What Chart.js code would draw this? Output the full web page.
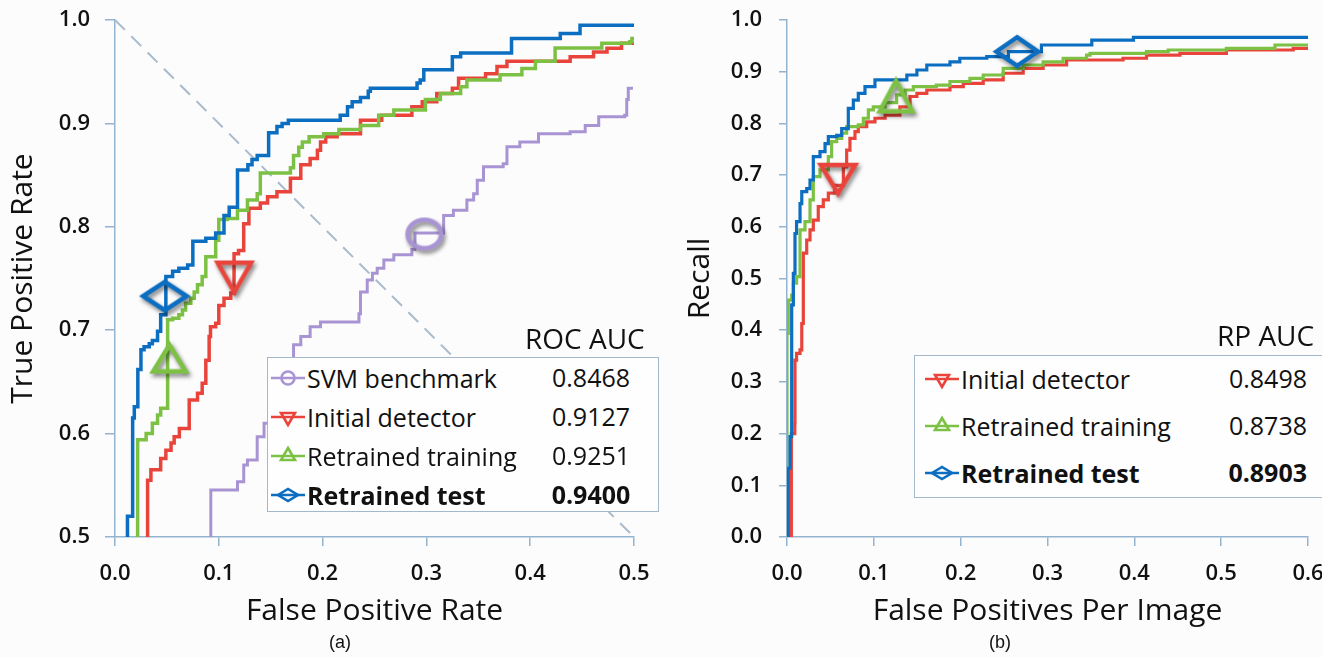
<!DOCTYPE html>
<html>
<head>
<meta charset="utf-8">
<script src="https://cdn.jsdelivr.net/npm/chart.js@4.4.1/dist/chart.umd.min.js"></script>
<style>
  html, body { margin: 0; padding: 0; }
  body { width: 1322px; height: 657px; overflow: hidden; background: #fcfcfd; position: relative;
         font-family: 'Open Sans', sans-serif; color: #111; }
  canvas { position: absolute; top: 0; }
  #roc { left: 0; }
  #rp { left: 660px; }
  .box { position: absolute; border: 1.5px solid #a3b8cb; background: #fefefe; box-sizing: border-box; }
  .row { position: absolute; left: 0; display: flex; align-items: center; font-size: 25px; white-space: nowrap; }
  .row svg { flex: none; }
  .val { position: absolute; font-size: 25px; }
  .hdr { position: absolute; font-size: 28px; white-space: nowrap; line-height: 1; }
  .cap { position: absolute; font-family: 'Liberation Sans', Arial, sans-serif; font-size: 18px; transform: translate(-50%, -50%); }
</style>
</head>
<body>
<canvas id="roc" width="660" height="657"></canvas>
<canvas id="rp" width="662" height="657"></canvas>
<div class="hdr" id="rocHdr" style="left:525px; top:324px;">ROC AUC</div>
<div class="box" id="rocBox" style="left:267px; top:357px; width:392px; height:155px;"></div>
<div class="hdr" id="rpHdr" style="left:1217px; top:321px;">RP AUC</div>
<div class="box" id="rpBox" style="left:914px; top:355px; width:420px; height:143px;"></div>
<div class="cap" style="left:340px; top:642px;">(a)</div>
<div class="cap" style="left:1000px; top:642px;">(b)</div>
<script>
'use strict';

// ---- (a) ROC curves, [false positive rate, true positive rate]
const rocTest = [
    [0.012, 0.5], [0.012, 0.52], [0.017, 0.615], [0.0186, 0.626], [0.022, 0.662], [0.025, 0.681],
    [0.028, 0.684], [0.033, 0.687], [0.036, 0.69], [0.041, 0.699], [0.044, 0.715], [0.049, 0.752],
    [0.0555, 0.757], [0.0615, 0.76], [0.07, 0.763], [0.075, 0.786], [0.0875, 0.789], [0.097, 0.794],
    [0.105, 0.811], [0.11, 0.819], [0.118, 0.855], [0.128, 0.86], [0.132, 0.865], [0.137, 0.869],
    [0.148, 0.891], [0.156, 0.897], [0.161, 0.9], [0.167, 0.903], [0.217, 0.908], [0.224, 0.916],
    [0.2285, 0.921], [0.2365, 0.925], [0.244, 0.931], [0.246, 0.934], [0.291, 0.939], [0.294, 0.942],
    [0.2975, 0.952], [0.325, 0.9645], [0.333, 0.968], [0.382, 0.982], [0.429, 0.987], [0.448, 0.995],
    [0.5, 0.995]
];
const rocTrain = [
    [0.0218, 0.5], [0.0218, 0.594], [0.03, 0.6], [0.036, 0.61], [0.041, 0.618], [0.044, 0.6245],
    [0.0507, 0.71], [0.0555, 0.7115], [0.0615, 0.715], [0.065, 0.7195], [0.068, 0.726], [0.073, 0.731],
    [0.0763, 0.737], [0.0795, 0.744], [0.084, 0.752], [0.0875, 0.771], [0.097, 0.787], [0.1, 0.807],
    [0.108, 0.808], [0.118, 0.816], [0.1276, 0.826], [0.137, 0.832], [0.14, 0.852], [0.169, 0.857],
    [0.172, 0.869], [0.177, 0.877], [0.1805, 0.882], [0.187, 0.887], [0.201, 0.89], [0.2157, 0.894],
    [0.2365, 0.898], [0.254, 0.908], [0.2686, 0.913], [0.299, 0.923], [0.3135, 0.929], [0.333, 0.9355],
    [0.339, 0.942], [0.371, 0.947], [0.392, 0.953], [0.405, 0.96], [0.424, 0.973], [0.469, 0.9775],
    [0.496, 0.979], [0.498, 0.982], [0.5, 0.982]
];
const rocInitial = [
    [0.0314, 0.5], [0.0314, 0.555], [0.0346, 0.565], [0.044, 0.576], [0.049, 0.584], [0.054, 0.591],
    [0.057, 0.597], [0.062, 0.605], [0.0715, 0.6325], [0.0795, 0.639], [0.084, 0.6486], [0.0875, 0.671],
    [0.0907, 0.694], [0.092, 0.7034], [0.097, 0.7067], [0.1, 0.724], [0.105, 0.731], [0.1115, 0.736],
    [0.1147, 0.774], [0.119, 0.777], [0.124, 0.803], [0.129, 0.818], [0.14, 0.823], [0.147, 0.829],
    [0.156, 0.834], [0.169, 0.847], [0.179, 0.86], [0.188, 0.866], [0.195, 0.874], [0.198, 0.882],
    [0.203, 0.887], [0.214, 0.89], [0.2365, 0.903], [0.257, 0.908], [0.286, 0.916], [0.296, 0.921],
    [0.31, 0.929], [0.325, 0.934], [0.331, 0.9436], [0.357, 0.948], [0.368, 0.955], [0.3776, 0.96],
    [0.4385, 0.9645], [0.461, 0.969], [0.474, 0.9726], [0.488, 0.9775], [0.5, 0.9775]
];
const rocSvm = [
    [0.0923, 0.5], [0.0923, 0.5455], [0.118, 0.5535], [0.124, 0.5696], [0.1276, 0.5745], [0.137, 0.597],
    [0.1436, 0.61], [0.155, 0.64], [0.166, 0.671], [0.172, 0.686], [0.179, 0.694], [0.188, 0.7034],
    [0.198, 0.708], [0.235, 0.716], [0.2365, 0.737], [0.243, 0.7485], [0.248, 0.755], [0.2526, 0.76],
    [0.259, 0.768], [0.2686, 0.773], [0.286, 0.778], [0.289, 0.794], [0.3166, 0.811], [0.326, 0.816],
    [0.339, 0.826], [0.3455, 0.832], [0.349, 0.845], [0.355, 0.858], [0.374, 0.861], [0.3776, 0.8775],
    [0.39, 0.882], [0.408, 0.89], [0.4385, 0.892], [0.453, 0.898], [0.466, 0.9065], [0.491, 0.908],
    [0.493, 0.923], [0.4945, 0.934], [0.499, 0.934]
];
const rocChance = [[0, 1], [0.5, 0.5]];
// operating points marked on each curve
const rocPoints = { svm: [0.298, 0.793], initial: [0.115, 0.751], train: [0.0524, 0.673], test: [0.048, 0.733] };
const rocNames = ['SVM benchmark', 'Initial detector', 'Retrained training', 'Retrained test'];
const rocAuc = ['0.8468', '0.9127', '0.9251', '0.9400'];

// ---- (b) recall vs false positives per image
const rpTest = [
    [0, 0], [0.0015, 0.039], [0.0015, 0.133], [0.0035, 0.194], [0.0054, 0.449], [0.0073, 0.51],
    [0.0092, 0.587], [0.011, 0.61], [0.015, 0.645], [0.017, 0.668], [0.0227, 0.674], [0.0265, 0.6905],
    [0.0303, 0.7356], [0.038, 0.7453], [0.0438, 0.761], [0.0476, 0.7744], [0.0572, 0.777], [0.063, 0.79],
    [0.0706, 0.829], [0.0764, 0.845], [0.0821, 0.858], [0.0898, 0.871], [0.1013, 0.884], [0.138, 0.8936],
    [0.1496, 0.9033], [0.161, 0.913], [0.1877, 0.919], [0.199, 0.926], [0.23, 0.929], [0.255, 0.939],
    [0.293, 0.9516], [0.351, 0.961], [0.399, 0.9665], [0.6, 0.9665]
];
const rpTrain = [
    [0, 0], [0, 0.02], [0, 0.394], [0.0015, 0.458], [0.0054, 0.468], [0.0073, 0.491], [0.011, 0.5035],
    [0.015, 0.594], [0.0207, 0.61], [0.0265, 0.652], [0.0303, 0.697], [0.038, 0.71], [0.0476, 0.7356],
    [0.0514, 0.7646], [0.0572, 0.771], [0.063, 0.781], [0.0687, 0.7936], [0.0821, 0.797], [0.0879, 0.81],
    [0.0937, 0.826], [0.0994, 0.832], [0.113, 0.84], [0.1263, 0.855], [0.136, 0.8646], [0.1455, 0.871],
    [0.172, 0.874], [0.1877, 0.881], [0.2107, 0.8872], [0.226, 0.8936], [0.249, 0.9066], [0.272, 0.913],
    [0.295, 0.919], [0.318, 0.926], [0.345, 0.932], [0.349, 0.9356], [0.414, 0.9387], [0.439, 0.942],
    [0.506, 0.9452], [0.562, 0.9516], [0.6, 0.9516]
];
const rpInitial = [
    [0.004, 0], [0.005, 0.2], [0.009, 0.22], [0.0092, 0.342], [0.011, 0.355], [0.015, 0.362], [0.017, 0.413],
    [0.0188, 0.549], [0.0227, 0.5745], [0.0265, 0.594], [0.0303, 0.613], [0.036, 0.639], [0.0418, 0.652],
    [0.0476, 0.665], [0.055, 0.68], [0.0649, 0.716], [0.0687, 0.7485], [0.0725, 0.771], [0.0783, 0.784],
    [0.0821, 0.7936], [0.0918, 0.803], [0.1013, 0.81], [0.113, 0.816], [0.13, 0.832], [0.1417, 0.852],
    [0.1496, 0.858], [0.161, 0.8646], [0.1877, 0.871], [0.203, 0.8775], [0.226, 0.884], [0.249, 0.897],
    [0.272, 0.9066], [0.295, 0.913], [0.322, 0.9226], [0.387, 0.926], [0.414, 0.932], [0.4525, 0.9356],
    [0.506, 0.942], [0.583, 0.9452], [0.6, 0.948]
];
const rpPoints = { initial: [0.0587, 0.692], train: [0.1255, 0.853], test: [0.265, 0.939] };
const rpNames = ['Initial detector', 'Retrained training', 'Retrained test'];
const rpAuc = ['0.8498', '0.8738', '0.8903'];

const BLUE = '#0b6ec1';
const GREEN = '#7cc144';
const RED = '#e9443b';
const PURPLE = '#a994d3';
const AXIS = '#93b3cf';
const INK = '#111';

Chart.defaults.font.family = "'Open Sans', sans-serif";

const xy = arr => arr.map(p => ({ x: p[0], y: p[1] }));

function markerCanvas(shape, color, w, h) {
    const pad = 10;
    const c = document.createElement('canvas');
    c.width = w + pad * 2;
    c.height = h + pad * 2;
    const g = c.getContext('2d');
    g.translate(c.width / 2, c.height / 2);
    g.shadowColor = 'rgba(0,0,0,0.5)';
    g.shadowBlur = 4;
    g.shadowOffsetX = 2;
    g.shadowOffsetY = 3;
    g.strokeStyle = color;
    g.lineWidth = 4.5;
    const hw = w / 2 - 2.25, hh = h / 2 - 2.25;
    g.beginPath();
    if (shape === 'circle') {
        g.ellipse(0, 0, hw, hh, 0, 0, Math.PI * 2);
    } else if (shape === 'down') {
        g.moveTo(-hw, -hh); g.lineTo(hw, -hh); g.lineTo(0, hh); g.closePath();
    } else if (shape === 'up') {
        g.moveTo(0, -hh); g.lineTo(hw, hh); g.lineTo(-hw, hh); g.closePath();
    } else {
        g.moveTo(-hw, 0); g.lineTo(0, -hh); g.lineTo(hw, 0); g.lineTo(0, hh); g.closePath();
    }
    g.stroke();
    return c;
}

function curve(data, color, width) {
    return { data: xy(data), borderColor: color, borderWidth: width, pointRadius: 0, stepped: true, fill: false };
}

function marker(pt, img) {
    return { data: [{ x: pt[0], y: pt[1] }], showLine: false, pointRadius: 5, pointStyle: img, clip: false };
}

function scales(xMax, yMin, xTitle, yTitle, yWidth, xHeight, yPad, yTitlePad, yTick) {
    return {
        x: {
            type: 'linear', min: 0, max: xMax,
            ticks: { stepSize: 0.1, color: INK, font: { size: 22, weight: '600' }, padding: 15, maxRotation: 0,
                     autoSkip: false, callback: v => v.toFixed(1) },
            grid: { drawOnChartArea: false, tickLength: 9, color: AXIS, lineWidth: 1.5 },
            border: { color: AXIS, width: 1.5 },
            title: { display: true, text: xTitle, color: INK, font: { size: 30 }, padding: { top: 0, bottom: 28 } },
            afterFit: s => { s.height = xHeight; s.paddingLeft = 0; s.paddingRight = 0; }
        },
        y: {
            type: 'linear', min: yMin, max: 1,
            ticks: { stepSize: 0.1, color: INK, font: { size: 22, weight: '600' }, padding: yPad, autoSkip: false,
                     callback: v => v.toFixed(1) },
            grid: { drawOnChartArea: false, tickLength: yTick, color: AXIS, lineWidth: 1.5 },
            border: { color: AXIS, width: 1.5 },
            title: { display: true, text: yTitle, color: INK, font: { size: 30 }, padding: { top: yTitlePad, bottom: 0 } },
            afterFit: s => { s.width = yWidth; s.paddingTop = 0; s.paddingBottom = 0; }
        }
    };
}

const baseOptions = {
    responsive: false,
    animation: false,
    events: [],
    plugins: { legend: { display: false }, tooltip: { enabled: false } }
};

new Chart(document.getElementById('roc'), {
    type: 'line',
    data: {
        datasets: [
            marker(rocPoints.test, markerCanvas('diamond', BLUE, 48, 33)),
            marker(rocPoints.train, markerCanvas('up', GREEN, 37, 31)),
            marker(rocPoints.initial, markerCanvas('down', RED, 38, 34)),
            marker(rocPoints.svm, markerCanvas('circle', PURPLE, 38, 33)),
            curve(rocTest, BLUE, 3.5),
            curve(rocTrain, GREEN, 3.5),
            curve(rocInitial, RED, 3.5),
            curve(rocSvm, PURPLE, 3),
            { data: xy(rocChance), borderColor: '#a9bacb', borderWidth: 2, borderDash: [14, 9], pointRadius: 0 }
        ]
    },
    options: Object.assign({}, baseOptions, {
        layout: { padding: { left: 0, top: 20, right: 26, bottom: 0 } },
        scales: scales(0.5, 0.5, 'False Positive Rate', 'True Positive Rate', 115, 120, 15, 5, 10)
    })
});

new Chart(document.getElementById('rp'), {
    type: 'line',
    data: {
        datasets: [
            marker(rpPoints.test, markerCanvas('diamond', BLUE, 46, 33)),
            marker(rpPoints.train, markerCanvas('up', GREEN, 37, 35)),
            marker(rpPoints.initial, markerCanvas('down', RED, 39, 33)),
            curve(rpTest, BLUE, 3.2),
            curve(rpTrain, GREEN, 3.2),
            curve(rpInitial, RED, 3.2)
        ]
    },
    options: Object.assign({}, baseOptions, {
        layout: { padding: { left: 0, top: 20, right: 14, bottom: 0 } },
        scales: scales(0.6, 0, 'False Positives Per Image', 'Recall', 127, 120, 17, 22, 8)
    })
});

// ---- legends (HTML so the text stays text)
function icon(shape, color) {
    let m;
    if (shape === 'circle') m = '<circle cx="17" cy="12" r="6.5"/>';
    else if (shape === 'down') m = '<polygon points="10,8 24,8 17,20"/>';
    else if (shape === 'up') m = '<polygon points="17,4 24,16 10,16"/>';
    else m = '<polygon points="7,12 17,6 27,12 17,18"/>';
    return '<svg width="34" height="24" viewBox="0 0 34 24"><g fill="none" stroke="' + color +
        '" stroke-width="2.6"><line x1="0" y1="12" x2="34" y2="12"/>' + m + '</g></svg>';
}

function fillLegend(boxId, names, auc, shapes, colors, rowH, top0, iconLeft, valStyle) {
    const box = document.getElementById(boxId);
    names.forEach((name, i) => {
        const last = i === names.length - 1;
        const row = document.createElement('div');
        row.className = 'row';
        row.style.top = (top0 + i * rowH) + 'px';
        row.style.height = rowH + 'px';
        row.style.paddingLeft = iconLeft + 'px';
        row.style.fontWeight = last ? '700' : '400';
        row.innerHTML = icon(shapes[i], colors[i]) + '<span style="margin-left:2px">' + name + '</span>';
        box.appendChild(row);
        const val = document.createElement('div');
        val.className = 'val';
        val.textContent = auc[i];
        val.style.cssText += valStyle + 'top:' + (top0 + i * rowH) + 'px;height:' + rowH + 'px;line-height:' +
            rowH + 'px;font-weight:' + (last ? '700' : '400') + ';';
        box.appendChild(val);
    });
}

fillLegend('rocBox', rocNames, rocAuc, ['circle', 'down', 'up', 'diamond'], [PURPLE, RED, GREEN, BLUE],
    39, 0, 3, 'left:281px;width:84px;text-align:center;');
fillLegend('rpBox', rpNames, rpAuc, ['down', 'up', 'diamond'], [RED, GREEN, BLUE],
    47, -1, 10, 'left:292px;width:100px;text-align:right;');
</script>
</body>
</html>
